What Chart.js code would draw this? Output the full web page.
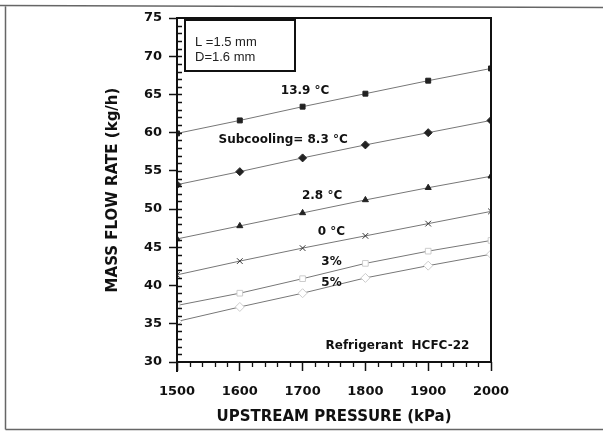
<!DOCTYPE html>
<html>
<head>
<meta charset="utf-8">
<script src="https://cdn.jsdelivr.net/npm/chart.js@4"></script>
<style>
  html, body { margin: 0; padding: 0; background: #fff; }
  #wrap { width: 603px; height: 434px; position: relative; }
</style>
</head>
<body>
<div id="wrap"><canvas id="chart" width="603" height="434"></canvas></div>
<script>
// data
const pressure = [1500, 1600, 1700, 1800, 1900, 2000];
const sub139 = [59.9, 61.6, 63.4, 65.1, 66.8, 68.4];
const sub83 = [53.2, 54.9, 56.7, 58.4, 60.0, 61.6];
const sub28 = [46.1, 47.8, 49.5, 51.2, 52.8, 54.3];
const sub0 = [41.4, 43.2, 44.9, 46.5, 48.1, 49.7];
const qual3 = [37.4, 39.0, 40.9, 42.9, 44.5, 45.9];
const qual5 = [35.3, 37.2, 39.0, 41.0, 42.6, 44.1];
const seriesNames = ['13.9 °C', '8.3 °C', '2.8 °C', '0 °C', '3%', '5%'];

// curve labels, placed in data units
const notes = [
    {text: '13.9 °C', x: 1704, y: 65.5},
    {text: 'Subcooling= 8.3 °C', x: 1669, y: 59.1},
    {text: '2.8 °C', x: 1731, y: 51.7},
    {text: '0 °C', x: 1746, y: 47.0},
    {text: '3%', x: 1746, y: 43.1},
    {text: '5%', x: 1746, y: 40.3},
    {text: 'Refrigerant  HCFC-22', x: 1851, y: 32.1}
];

function pts(vals){
    return pressure.map((p, i) => ({x: p, y: vals[i]}));
}

function series(name, vals, style, fill, border, radius){
    return {
        label: name,
        data: pts(vals),
        showLine: true,
        borderColor: '#777',
        borderWidth: 1,
        pointStyle: style,
        pointRadius: radius,
        pointBackgroundColor: fill,
        pointBorderColor: border,
        pointBorderWidth: 1
    };
}

const extras = {
    id: 'extras',
    beforeDraw(chart){
        const c = chart.ctx;
        c.save();
        // scan frame around the figure
        c.strokeStyle = '#666';
        c.lineWidth = 1.5;
        c.beginPath();
        c.moveTo(0, 5.5); c.lineTo(603, 7.5);
        c.moveTo(5.5, 5.5); c.lineTo(5.5, 429.5);
        c.moveTo(5.5, 429.5); c.lineTo(603, 429.5);
        c.stroke();
        c.restore();
    },
    afterDraw(chart){
        const c = chart.ctx;
        const a = chart.chartArea;
        const xs = chart.scales.x, ys = chart.scales.y;
        c.save();
        c.strokeStyle = '#111';
        c.lineWidth = 2;
        c.strokeRect(a.left, a.top, a.right - a.left, a.bottom - a.top);
        // y axis runs a bit below the x axis
        c.beginPath();
        c.moveTo(a.left, a.bottom); c.lineTo(a.left, a.bottom + 10);
        c.stroke();
        // minor ticks
        c.lineWidth = 1.3;
        c.beginPath();
        for(let v = 31; v < 75; v++){
            const y = Math.round(ys.getPixelForValue(v)) + 0.5;
            c.moveTo(a.left, y); c.lineTo(a.left + 5, y);
        }
        for(let v = 1520; v < 2000; v += 20){
            if(v % 100 == 0) continue;
            const x = Math.round(xs.getPixelForValue(v)) + 0.5;
            c.moveTo(x, a.bottom); c.lineTo(x, a.bottom + 5);
        }
        c.stroke();

        // L / D box
        c.lineWidth = 2;
        c.strokeRect(185, 20, 110, 51);
        c.fillStyle = '#222';
        c.font = '13px "Liberation Sans Narrow", "Liberation Sans", sans-serif';
        c.textBaseline = 'middle';
        c.textAlign = 'left';
        c.fillText('L =1.5 mm', 195, 42);
        c.fillText('D=1.6 mm', 195, 57);

        // curve labels
        c.fillStyle = '#111';
        c.font = 'bold 12px "DejaVu Sans", sans-serif';
        c.textAlign = 'center';
        for(let i = 0; i < notes.length; i++){
            c.fillText(notes[i].text, xs.getPixelForValue(notes[i].x), ys.getPixelForValue(notes[i].y));
        }
        c.restore();
    }
};

const ctx = document.getElementById('chart');
new Chart(ctx, {
    type: 'scatter',
    data: {
        datasets: [
            series(seriesNames[0], sub139, 'rect', '#222', '#222', 3.5),
            series(seriesNames[1], sub83, 'rectRot', '#222', '#222', 4),
            series(seriesNames[2], sub28, 'triangle', '#222', '#222', 3.5),
            series(seriesNames[3], sub0, 'crossRot', '#222', '#333', 4),
            series(seriesNames[4], qual3, 'rect', '#fff', '#ccc', 4),
            series(seriesNames[5], qual5, 'rectRot', '#fff', '#ccc', 4.5)
        ]
    },
    options: {
        responsive: false,
        animation: false,
        layout: {padding: {left: 100, top: 18, right: 112, bottom: 5}},
        plugins: {
            legend: {display: false},
            tooltip: {enabled: false}
        },
        scales: {
            x: {
                type: 'linear',
                min: 1500,
                max: 2000,
                border: {display: false},
                grid: {drawOnChartArea: false, tickLength: 9, tickColor: '#111', tickWidth: 1.5},
                ticks: {
                    stepSize: 100,
                    padding: 13,
                    color: '#111',
                    font: {family: 'DejaVu Sans', size: 13, weight: 'bold'},
                    callback: function(v){ return String(v); }
                },
                title: {
                    display: true,
                    text: 'UPSTREAM PRESSURE (kPa)',
                    color: '#111',
                    font: {family: 'DejaVu Sans', size: 15, weight: 'bold'},
                    padding: {top: 0, bottom: 3}
                },
                afterFit: function(s){ s.height = 67; }
            },
            y: {
                type: 'linear',
                min: 30,
                max: 75,
                border: {display: false},
                grid: {drawOnChartArea: false, tickLength: 8, tickColor: '#111', tickWidth: 1.5},
                ticks: {stepSize: 5, padding: 7, color: '#111', font: {family: 'DejaVu Sans', size: 13, weight: 'bold'}},
                title: {
                    display: true,
                    text: 'MASS FLOW RATE (kg/h)',
                    color: '#111',
                    font: {family: 'DejaVu Sans', size: 15, weight: 'bold'},
                    padding: {top: 4, bottom: 0}
                },
                afterFit: function(s){ s.width = 77; }
            }
        }
    },
    plugins: [extras]
});
</script>
</body>
</html>
